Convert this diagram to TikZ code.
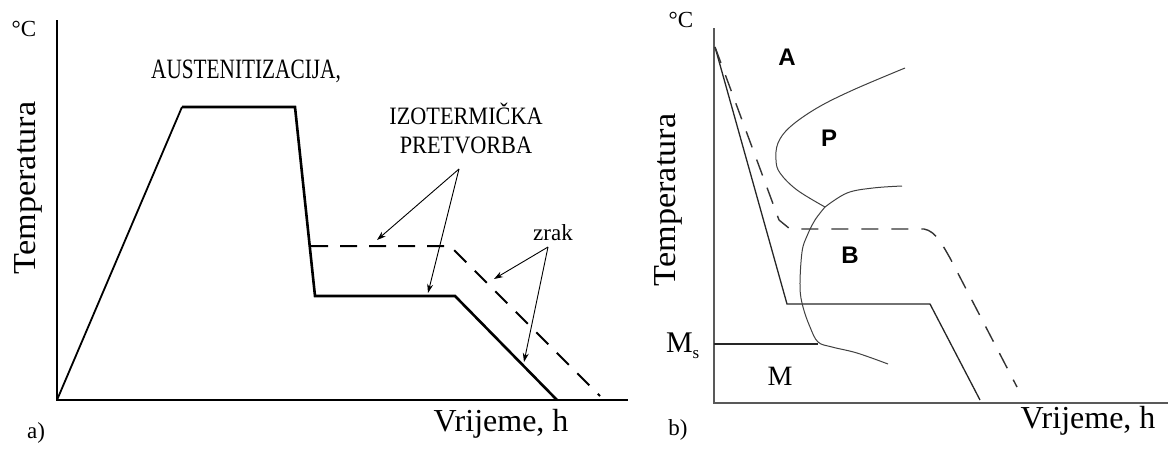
\documentclass[tikz,border=0pt]{standalone}
\usepackage{fontspec}
\setmainfont{Liberation Serif}
\newfontfamily\labelsans{Liberation Sans}
\usetikzlibrary{arrows.meta}
\begin{document}
\begin{tikzpicture}[x=1pt,y=-1pt,
  axisa/.style={line width=2pt, black},
  axisb/.style={line width=1.4pt, black!65},
  heat/.style={line width=2.6pt, line join=miter},
  ramp/.style={line width=1.8pt},
  heatdash/.style={line width=2pt, dash pattern=on 17pt off 12pt},
  bline/.style={line width=1.3pt, black!85},
  bcurve/.style={line width=1pt, black!75},
  bdash/.style={line width=1.4pt, black!80, dash pattern=on 17pt off 13pt},
  pointer/.style={line width=0.9pt, -{Stealth[length=9pt,width=6pt]}},
  big/.style={font=\fontsize{32}{36}\selectfont},
  caps/.style={font=\fontsize{28}{30}\selectfont},
  small/.style={font=\fontsize{23}{26}\selectfont},
  phase/.style={font=\labelsans\bfseries\fontsize{24}{26}\selectfont},
  inner sep=0pt, outer sep=0pt]
\useasboundingbox (0,0) rectangle (1168,450);

% ---------------- panel a ----------------
\coordinate (aO) at (57,400);
\coordinate (aYt) at (57,20);
\coordinate (aXe) at (628,400);
\draw[axisa] (aYt) -- (aO) -- (aXe);

\coordinate (a1) at (182,107);
\coordinate (a2) at (295,107);
\coordinate (a3) at (315,296);
\coordinate (a4) at (455,296);
\coordinate (a5) at (557,400);
\draw[ramp] (aO) -- (a1);
\draw[heat] (a1) -- (a2) -- (a3) -- (a4) -- (a5);

\coordinate (d1) at (311,246);
\coordinate (d2) at (450,246);
\coordinate (d3) at (600,396);
\draw[heatdash] (d1) -- (d2) -- (d3);

\node[big, rotate=90, anchor=base] (aTemp) at (35,188) {\scalebox{1.07}[1]{Temperatura}};
\node[small] (aDeg) at (24,29) {°C};
\node[big, anchor=base] (aTime) at (501,431) {Vrijeme, h};
\node[small] (aLab) at (36,433) {a)};
\node[caps, anchor=base] (aAus) at (246,78) {\scalebox{0.76}[1]{AUSTENITIZACIJA,}};
\node[font=\fontsize{25}{29}\selectfont, align=center] (aIzo) at (466,128)
  {\scalebox{0.89}[1]{IZOTERMIČKA}\\\scalebox{0.89}[1]{PRETVORBA}};
\node[small, anchor=base] (aZrak) at (553,240) {zrak};

\coordinate (izApex) at (459,169);
\coordinate (izT1) at (377,240);
\coordinate (izT2) at (428,293);
\draw[pointer] (izApex) -- (izT1);
\draw[pointer] (izApex) -- (izT2);

\coordinate (zkApex) at (548,247);
\coordinate (zkT1) at (494,279);
\coordinate (zkT2) at (524,362);
\draw[pointer] (zkApex) -- (zkT1);
\draw[pointer] (zkApex) -- (zkT2);

% ---------------- panel b ----------------
\coordinate (bO) at (714,403);
\coordinate (bYt) at (714,28);
\coordinate (bXe) at (1168,403);
\draw[axisb] (bYt) -- (bO) -- (bXe);

\coordinate (b1) at (715,47);
\coordinate (b2) at (787,304);
\coordinate (b3) at (930,304);
\coordinate (b4) at (980,400);
\draw[bline] (b1) -- (b2) -- (b3) -- (b4);

\coordinate (c1) at (779,220);
\coordinate (c2) at (790,229);
\coordinate (c3) at (924,229);
\coordinate (c4) at (950,258);
\coordinate (c5) at (1017,387);
\draw[bdash] (b1) -- (c1) -- (c2) -- (c3) .. controls (936,231) and (943,246) .. (c4) -- (c5);

\coordinate (ms1) at (714,344);
\coordinate (ms2) at (818,344);
\draw[bline] (ms1) -- (ms2);

\draw[bcurve] plot[smooth, tension=0.6] coordinates {(905,68) (853,90) (817,108) (790,127) (778,143) (776,160) (780,173) (797,190) (825,207)};
\draw[bcurve] plot[smooth, tension=0.6] coordinates {(825,207) (847,193) (873,188) (902,186)};
\draw[bcurve] plot[smooth, tension=0.6] coordinates {(825,207) (815,220) (807,236) (802,252) (800,287) (803,307) (810,327) (818,342) (832,347) (857,353) (888,364)};

\node[big, rotate=90, anchor=base] (bTemp) at (675,200) {\scalebox{1.07}[1]{Temperatura}};
\node[small] (bDeg) at (681,20) {°C};
\node[big, anchor=base] (bTime) at (1088,428) {Vrijeme, h};
\node[small] (bLab) at (678,430) {b)};
\node[font=\fontsize{30}{32}\selectfont, anchor=base west] (bMs) at (666,352) {M\raisebox{-0.2em}{\fontsize{17}{18}\selectfont s}};
\node[caps] (bM) at (780,376) {M};
\node[phase] (bA) at (787,57) {A};
\node[phase] (bP) at (829,138) {P};
\node[phase] (bB) at (850,255) {B};
\end{tikzpicture}
\end{document}
